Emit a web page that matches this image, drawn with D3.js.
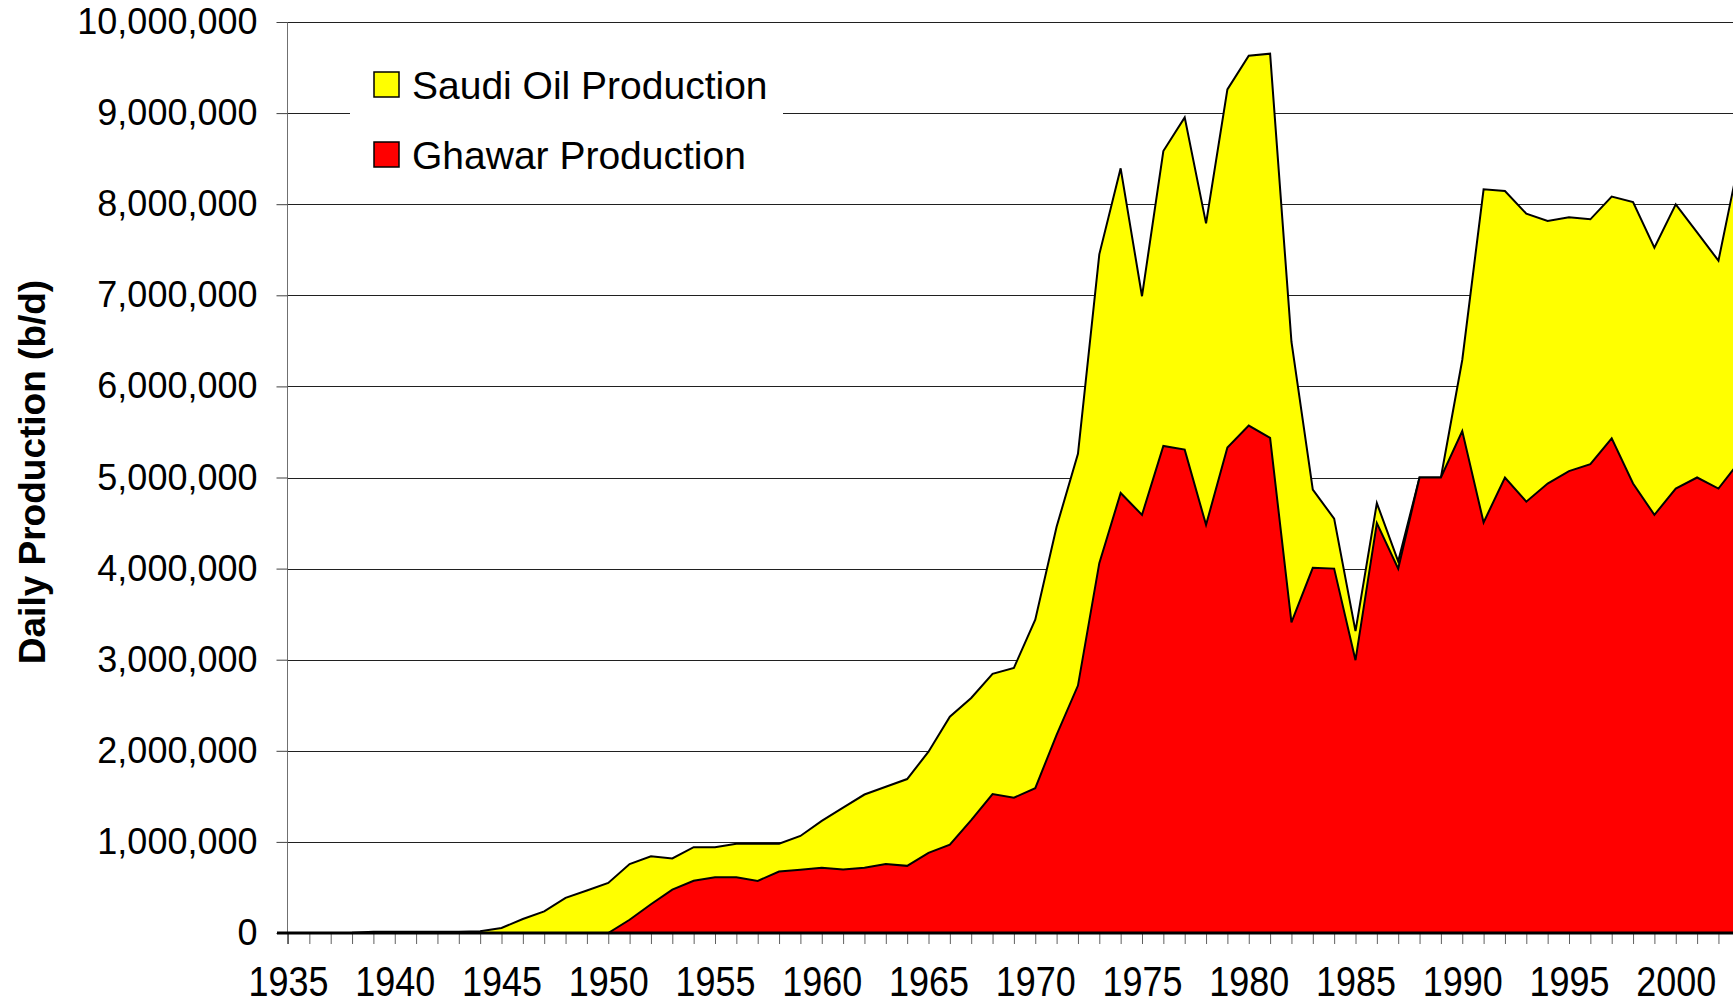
<!DOCTYPE html>
<html>
<head>
<meta charset="utf-8">
<script src="https://cdn.jsdelivr.net/npm/d3@7"></script>
<style>
	body { margin: 0; background: #fff; }
	svg { display: block; font-family: "Liberation Sans", Arial, sans-serif; }
</style>
</head>
<body>
<div id="chart"></div>
<script>
// ---- data (barrels per day) ----
const years = d3.range(1935, 2004);

const saudi = [
	0, 0, 0, 1500, 15000, 15000, 15000, 15000, 15000, 18000,          // 1935-1944
	55000, 154000, 238000, 386000, 466000, 550000, 757000, 842000, 818000, 942000,   // 1945-1954
	942000, 980000, 980000, 980000, 1065000, 1230000, 1376000, 1520000, 1606000, 1690000, // 1955-1964
	1990000, 2375000, 2580000, 2845000, 2910000, 3440000, 4460000, 5260000, 7450000, 8394000, // 1965-1974
	6990000, 8584000, 8953000, 7790000, 9260000, 9630000, 9652000, 6490000, 4867000, 4548000, // 1975-1984
	3314000, 4719000, 4080000, 5000000, 5000000, 6290000, 8163000, 8145000, 7896000, 7816000, // 1985-1994
	7856000, 7834000, 8083000, 8024000, 7523000, 7999000, 7690000, 7380000, 8520000          // 1995-2003
];

const ghawar = [
	0, 0, 0, 0, 0, 0, 0, 0, 0, 0,                                     // 1935-1944
	0, 0, 0, 0, 0, 0, 145000, 316000, 476000, 574000,                 // 1945-1954
	613000, 613000, 572000, 675000, 695000, 717000, 697000, 717000, 757000, 737000, // 1955-1964
	880000, 970000, 1240000, 1525000, 1485000, 1590000, 2175000, 2716000, 4060000, 4830000, // 1965-1974
	4590000, 5346000, 5306000, 4480000, 5330000, 5570000, 5434000, 3410000, 4009000, 4000000, // 1975-1984
	2995000, 4500000, 4000000, 5000000, 5000000, 5510000, 4507000, 5000000, 4735000, 4934000, // 1985-1994
	5070000, 5146000, 5430000, 4934000, 4590000, 4879000, 5000000, 4879000, 5180000          // 1995-2003
];

const seriesNames = ["Saudi Oil Production", "Ghawar Production"];
const seriesColors = ["#ffff00", "#ff0000"];
const yTicks = d3.range(0, 10000001, 1000000);
const xLabelYears = d3.range(1935, 2004, 5);

// ---- layout ----
const width = 1733, height = 1004;
const x0 = 288, yZero = 933, yTop = 22, step = 21.35;

const x = d3.scaleLinear()
	.domain([1935, 2003])
	.range([x0, x0 + 68 * step]);

const y = d3.scaleLinear()
	.domain([0, 10000000])
	.range([yZero, yTop]);

const svg = d3.select("#chart")
	.append("svg")
	.attr("width", width)
	.attr("height", height);

// gridlines
svg.append("g")
	.selectAll("line")
	.data(yTicks.filter(d => d > 0))
	.enter()
	.append("line")
	.attr("x1", x0)
	.attr("x2", width)
	.attr("y1", d => Math.round(y(d)) + 0.5)
	.attr("y2", d => Math.round(y(d)) + 0.5)
	.style("stroke", "#202020")
	.style("stroke-width", 1);

// areas (overlapping, Saudi behind Ghawar)
const area = d3.area()
	.x((d, i) => x(years[i]))
	.y0(yZero)
	.y1(d => y(d));

const line = d3.line()
	.x((d, i) => x(years[i]))
	.y(d => y(d));

[saudi, ghawar].forEach(function(vals, k){
	svg.append("path")
		.datum(vals)
		.attr("d", area)
		.style("fill", seriesColors[k]);
	svg.append("path")
		.datum(vals)
		.attr("d", line)
		.style("fill", "none")
		.style("stroke", "#000")
		.style("stroke-width", 2)
		.style("stroke-linejoin", "miter");
});

// y axis
const yAxis = svg.append("g")
	.attr("transform", "translate(" + (x0 - 0.5) + ",0)")
	.call(d3.axisLeft(y)
		.tickValues(yTicks)
		.tickFormat(d3.format(","))
		.tickSize(11)
		.tickPadding(19));
yAxis.select(".domain")
	.attr("d", "M0," + yTop + "V" + (yZero + 11))
	.style("stroke", "#707070");
yAxis.selectAll(".tick line").style("stroke", "#404040");
yAxis.selectAll("text")
	.style("font-size", "36px")
	.style("fill", "#000");

// x axis (labels a little taller than wide, as in the original)
const xAxis = svg.append("g")
	.attr("transform", "translate(0," + yZero + ")")
	.call(d3.axisBottom(x)
		.tickValues(years)
		.tickFormat(d => xLabelYears.includes(d) ? d : "")
		.tickSize(11)
		.tickPadding(22));
xAxis.select(".domain").remove();
xAxis.selectAll(".tick line").style("stroke", "#606060");
xAxis.selectAll("text")
	.attr("y", 28)
	.attr("transform", "scale(1,1.18)")
	.style("font-size", "36px")
	.style("fill", "#000");

svg.append("line")
	.attr("x1", x0 - 11)
	.attr("x2", width)
	.attr("y1", yZero)
	.attr("y2", yZero)
	.style("stroke", "#000")
	.style("stroke-width", 3);

// y axis title
svg.append("text")
	.attr("transform", "translate(45,472) rotate(-90)")
	.attr("text-anchor", "middle")
	.style("font-size", "37px")
	.style("font-weight", "bold")
	.text("Daily Production (b/d)");

// legend
const legend = svg.append("g");

legend.append("rect")
	.attr("x", 350)
	.attr("y", 40)
	.attr("width", 433)
	.attr("height", 150)
	.style("fill", "#fff");

const items = legend.selectAll("g.item")
	.data(seriesNames)
	.enter()
	.append("g")
	.attr("class", "item")
	.attr("transform", (d, i) => "translate(374," + (72 + i * 70) + ")");

items.append("rect")
	.attr("width", 25)
	.attr("height", 25)
	.style("fill", (d, i) => seriesColors[i])
	.style("stroke", "#000")
	.style("stroke-width", 1.5);

items.append("text")
	.attr("x", 38)
	.attr("y", 27)
	.style("font-size", "39px")
	.text(d => d);
</script>
</body>
</html>
